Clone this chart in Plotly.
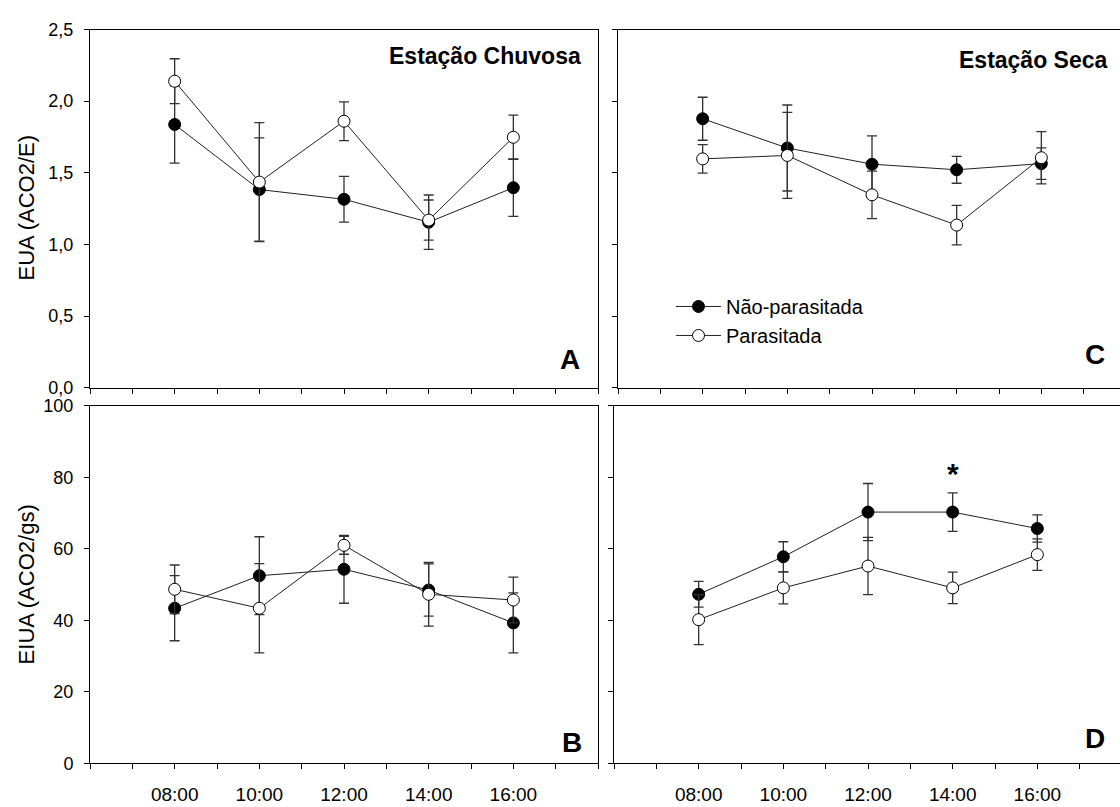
import plotly.graph_objects as go

# ---------------- data ----------------
hours = [8, 10, 12, 14, 16]
hour_labels = ["08:00", "10:00", "12:00", "14:00", "16:00"]
tick_hours = list(range(6, 19))

# Panel A: EUA, rainy season
a_np = [1.837, 1.383, 1.315, 1.155, 1.396]
a_np_err = [0.27, 0.36, 0.16, 0.19, 0.20]
a_p = [2.139, 1.435, 1.860, 1.170, 1.748]
a_p_err = [0.157, 0.415, 0.135, 0.14, 0.155]

# Panel C: EUA, dry season
c_np = [1.877, 1.673, 1.560, 1.521, 1.564]
c_np_err = [0.15, 0.30, 0.197, 0.094, 0.11]
c_p = [1.597, 1.621, 1.346, 1.135, 1.605]
c_p_err = [0.10, 0.30, 0.166, 0.138, 0.182]

# Panel B: EIUA, rainy season
b_np = [43.4, 52.5, 54.3, 48.5, 39.3]
b_np_err = [9.1, 10.9, 9.5, 7.3, 8.4]
b_p = [48.7, 43.4, 61.0, 47.3, 45.7]
b_p_err = [6.8, 12.5, 2.5, 8.9, 6.4]

# Panel D: EIUA, dry season
d_np = [47.3, 57.8, 70.3, 70.3, 65.7]
d_np_err = [3.6, 4.2, 8.0, 5.4, 3.8]
d_p = [40.2, 49.1, 55.2, 49.1, 58.4]
d_p_err = [7.0, 4.5, 8.0, 4.4, 4.4]

eua_ticks = [0, 0.5, 1.0, 1.5, 2.0, 2.5]
eua_labels = ["0,0", "0,5", "1,0", "1,5", "2,0", "2,5"]
eiua_ticks = [0, 20, 40, 60, 80, 100]
eiua_labels = ["0", "20", "40", "60", "80", "100"]

series_names = ["Não-parasitada", "Parasitada"]
star_hour = 14
star_value = 81.0

# ---------------- figure ----------------
W, H = 1120, 807
FONT = "Arial, Liberation Sans, sans-serif"
fig = go.Figure()


def px_x(p):
    return p / W


def px_y(p):
    return 1 - p / H


panels = [
    ("x", "y", a_np, a_np_err, a_p, a_p_err, False),
    ("x2", "y2", c_np, c_np_err, c_p, c_p_err, True),
    ("x3", "y3", b_np, b_np_err, b_p, b_p_err, False),
    ("x4", "y4", d_np, d_np_err, d_p, d_p_err, False),
]

for xa, ya, vnp, enp, vp, ep, sl in panels:
    fig.add_trace(go.Scatter(
        x=hours, y=vnp, xaxis=xa, yaxis=ya, mode="lines+markers",
        name=series_names[0], showlegend=sl,
        line=dict(color="#222222", width=1),
        marker=dict(symbol="circle", size=12, color="black",
                    line=dict(color="black", width=1)),
        error_y=dict(type="data", array=enp, visible=True,
                     color="#333333", thickness=1.3, width=5),
    ))
    fig.add_trace(go.Scatter(
        x=hours, y=vp, xaxis=xa, yaxis=ya, mode="lines+markers",
        name=series_names[1], showlegend=sl,
        line=dict(color="#222222", width=1),
        marker=dict(symbol="circle", size=12, color="white",
                    line=dict(color="black", width=1)),
        error_y=dict(type="data", array=ep, visible=True,
                     color="#333333", thickness=1.3, width=5),
    ))

xtext = [hour_labels[hours.index(h)] if h in hours else "" for h in tick_hours]


def xaxis_cfg(domain, rng, labels, anchor):
    return dict(
        domain=domain, range=rng, anchor=anchor,
        tickmode="array", tickvals=tick_hours, ticktext=xtext,
        showticklabels=labels, ticks="outside", ticklen=5, tickwidth=1,
        tickcolor="black", showline=True, linecolor="black", linewidth=1,
        mirror=True, showgrid=False, zeroline=False,
        tickfont=dict(family=FONT, size=19, color="black"),
        ticklabelstandoff=9,
    )


def yaxis_cfg(domain, rng, tv, tt, labels, anchor, mirror):
    return dict(
        domain=domain, range=rng, anchor=anchor,
        tickmode="array", tickvals=tv, ticktext=tt,
        showticklabels=labels, ticks="outside", ticklen=5, tickwidth=1,
        tickcolor="black", showline=True, linecolor="black", linewidth=1,
        mirror=mirror, showgrid=False, zeroline=False,
        tickfont=dict(family=FONT, size=18, color="black"),
        ticklabelstandoff=7,
    )


top_dom = [px_y(387.3), px_y(20)]
bot_dom = [px_y(772.5), px_y(406)]
left_dom = [px_x(90), px_x(598)]
tr_dom = [px_x(618), 1.0]
br_dom = [px_x(614), 1.0]
tr_end = 6 + (1120 - 618) / (508 / 12)
br_end = 6 + (1120 - 614) / (508 / 12)

fig.update_layout(
    width=W, height=H,
    margin=dict(l=0, r=0, t=0, b=0),
    paper_bgcolor="white", plot_bgcolor="white",
    font=dict(family=FONT, color="black"),
    xaxis=xaxis_cfg(left_dom, [6, 18], False, "y"),
    yaxis=yaxis_cfg(top_dom, [0, 2.5], eua_ticks, eua_labels, True, "x", True),
    xaxis2=xaxis_cfg(tr_dom, [6, tr_end], False, "y2"),
    yaxis2=yaxis_cfg(top_dom, [0, 2.5], eua_ticks, eua_labels, False, "x2", False),
    xaxis3=xaxis_cfg(left_dom, [6, 18], True, "y3"),
    yaxis3=yaxis_cfg(bot_dom, [0, 100], eiua_ticks, eiua_labels, True, "x3", True),
    xaxis4=xaxis_cfg(br_dom, [6, br_end], True, "y4"),
    yaxis4=yaxis_cfg(bot_dom, [0, 100], eiua_ticks, eiua_labels, False, "x4", False),
    showlegend=True,
    legend=dict(
        x=px_x(671), y=px_y(284), xanchor="left", yanchor="top",
        bgcolor="rgba(0,0,0,0)", borderwidth=0,
        font=dict(family=FONT, size=20, color="black"),
        itemwidth=45, tracegroupgap=0,
    ),
)

annots = [
    dict(text="EUA (ACO2/E)", x=px_x(26), y=px_y(203.5), textangle=-90,
         font=dict(size=22)),
    dict(text="EIUA (ACO2/gs)", x=px_x(26), y=px_y(589), textangle=-90,
         font=dict(size=22)),
    dict(text="<b>Estação Chuvosa</b>", x=px_x(583), y=px_y(47),
         xanchor="right", font=dict(size=23)),
    dict(text="<b>Estação Seca</b>", x=px_x(1110), y=px_y(51),
         xanchor="right", font=dict(size=23)),
    dict(text="<b>A</b>", x=px_x(582), y=px_y(358), xanchor="right",
         font=dict(size=28)),
    dict(text="<b>C</b>", x=px_x(1107), y=px_y(353), xanchor="right",
         font=dict(size=28)),
    dict(text="<b>B</b>", x=px_x(584), y=px_y(751), xanchor="right",
         font=dict(size=28)),
    dict(text="<b>D</b>", x=px_x(1107), y=px_y(747), xanchor="right",
         font=dict(size=28)),
]
for a in annots:
    a.setdefault("xanchor", "center")
    fig.add_annotation(xref="paper", yref="paper", yanchor="middle",
                       showarrow=False, **a)

fig.add_annotation(x=star_hour, y=star_value, xref="x4", yref="y4",
                   text="<b>*</b>", showarrow=False, yanchor="middle",
                   font=dict(size=30, family=FONT, color="black"))

fig.write_html("out.html")
